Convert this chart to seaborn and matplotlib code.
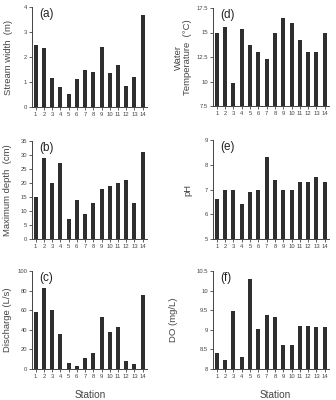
import matplotlib.pyplot as plt
import seaborn as sns
import pandas as pd

stations = list(range(1, 15))

stream_width = [2.47, 2.36, 1.16, 0.81, 0.53, 1.12, 1.49, 1.4, 2.4, 1.36, 1.69, 0.85, 1.2, 3.68]
max_depth = [15, 29, 20, 27, 7, 14, 9, 13, 18, 19, 20, 21, 13, 31]
discharge = [58, 83, 60, 36, 6, 3, 11, 16, 53, 38, 43, 8, 5, 76]
water_temp = [15.0, 15.6, 9.8, 15.4, 13.7, 13.0, 12.3, 15.0, 16.5, 16.0, 14.2, 13.0, 13.0, 14.9]
ph = [6.6, 7.0, 7.0, 6.4, 6.9, 7.0, 8.3, 7.4, 7.0, 7.0, 7.3, 7.3, 7.5, 7.3]
do = [8.4, 8.22, 9.47, 8.31, 10.3, 9.02, 9.37, 9.32, 8.6, 8.6, 9.1, 9.1, 9.07, 9.08]

sns.set_style('ticks')
plt.rcParams['font.family'] = ['Liberation Sans', 'DejaVu Sans']

panels = [
    # (values, label, tag, ylim, yticks, ticklabels, axes rect, label x)
    (stream_width, 'Stream width  (m)', '(a)', (0, 4), [0, 1, 2, 3, 4], None,
     [0.095, 0.7325, 0.342, 0.25], -0.165),
    (max_depth, 'Maximum depth  (cm)', '(b)', (0, 35), list(range(0, 36, 5)), None,
     [0.095, 0.4025, 0.342, 0.245], -0.175),
    (discharge, 'Discharge (L/s)', '(c)', (0, 100), list(range(0, 101, 20)), None,
     [0.095, 0.0775, 0.342, 0.245], -0.175),
    (water_temp, 'Water\nTemperature  (°C)', '(d)', (7.5, 17.5), [7.5, 10, 12.5, 15, 17.5],
     ['7.5', '10', '12.5', '15', '17.5'], [0.634, 0.735, 0.345, 0.245], -0.18),
    (ph, 'pH', '(e)', (5, 9), [5, 6, 7, 8, 9], None,
     [0.634, 0.4025, 0.345, 0.2475], -0.18),
    (do, 'DO (mg/L)', '(f)', (8, 10.5), [8, 8.5, 9, 9.5, 10, 10.5],
     ['8', '8.5', '9', '9.5', '10', '10.5'], [0.634, 0.0775, 0.345, 0.245], -0.30),
]

fig = plt.figure(figsize=(3.36, 4.0), dpi=100)

for vals, ylab, tag, ylim, yt, ytl, rect, lx in panels:
    ax = fig.add_axes(rect)
    df = pd.DataFrame({'station': stations, 'value': vals})
    sns.barplot(data=df, x='station', y='value', color='#2e2e2e', width=0.48,
                saturation=1, linewidth=0, ax=ax)
    ax.set_xlim(-0.45, 13.5)
    ax.set_ylim(*ylim)
    ax.set_yticks(yt)
    if ytl is not None:
        ax.set_yticklabels(ytl)
    ax.set_xlabel('')
    ax.set_ylabel(ylab, fontsize=6.8, color='#444444', linespacing=1.0)
    ax.yaxis.set_label_coords(lx, 0.5)
    ax.tick_params(axis='both', labelsize=4.2, length=2, width=0.6,
                   colors='#444444', pad=1.5)
    for s in ['left', 'bottom']:
        ax.spines[s].set_linewidth(0.7)
        ax.spines[s].set_color('#444444')
    sns.despine(ax=ax)
    ax.text(0.06, 0.93, tag, transform=ax.transAxes, fontsize=8.5,
            color='#222222', va='center', ha='left')

fig.text(0.268, 0.004, 'Station', fontsize=7.2, color='#444444', ha='center', va='baseline')
fig.text(0.818, 0.004, 'Station', fontsize=7.2, color='#444444', ha='center', va='baseline')

fig.savefig('out.png', dpi=100)
